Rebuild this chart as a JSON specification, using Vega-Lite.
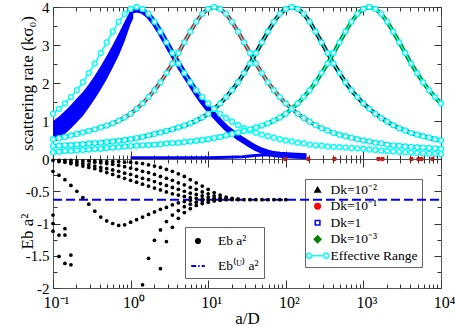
{
"$schema": "https://vega.github.io/schema/vega-lite/v6.json",
"padding": {"left": 17, "top": -3, "right": 0, "bottom": 0},
"background": "white",
"spacing": 0,
"bounds": "flush",
"resolve": {"scale": {"color": "independent"}, "legend": {"color": "independent"}},
"datasets": {
"curves": [
{"s":"Dk=1","a":0.1,"r":1.19},{"s":"Dk=1","a":0.1194,"r":1.32},{"s":"Dk=1","a":0.1425,"r":1.46},{"s":"Dk=1","a":0.1701,"r":1.63},{"s":"Dk=1","a":0.2031,"r":1.81},{"s":"Dk=1","a":0.2425,"r":2.02},{"s":"Dk=1","a":0.2894,"r":2.26},{"s":"Dk=1","a":0.3455,"r":2.51},{"s":"Dk=1","a":0.4125,"r":2.79},{"s":"Dk=1","a":0.4924,"r":3.07},{"s":"Dk=1","a":0.5878,"r":3.35},{"s":"Dk=1","a":0.7017,"r":3.61},{"s":"Dk=1","a":0.8377,"r":3.82},{"s":"Dk=1","a":1,"r":3.95},{"s":"Dk=1","a":1.194,"r":4.0},{"s":"Dk=1","a":1.425,"r":3.95},{"s":"Dk=1","a":1.701,"r":3.82},{"s":"Dk=1","a":2.031,"r":3.61},{"s":"Dk=1","a":2.425,"r":3.35},{"s":"Dk=1","a":2.894,"r":3.07},{"s":"Dk=1","a":3.455,"r":2.79},{"s":"Dk=1","a":4.125,"r":2.51},{"s":"Dk=1","a":4.924,"r":2.26},{"s":"Dk=1","a":5.878,"r":2.02},{"s":"Dk=1","a":7.017,"r":1.81},{"s":"Dk=1","a":8.377,"r":1.63},{"s":"Dk=1","a":10,"r":1.46},{"s":"Dk=1","a":11.94,"r":1.32},{"s":"Dk=1","a":14.25,"r":1.19},{"s":"Dk=1","a":17.01,"r":1.08},{"s":"Dk=1","a":20.31,"r":0.98},{"s":"Dk=1","a":24.25,"r":0.89},{"s":"Dk=1","a":28.94,"r":0.81},{"s":"Dk=1","a":34.55,"r":0.75},{"s":"Dk=1","a":41.25,"r":0.69},{"s":"Dk=1","a":49.24,"r":0.64},{"s":"Dk=1","a":58.78,"r":0.6},{"s":"Dk=1","a":70.17,"r":0.56},{"s":"Dk=1","a":83.77,"r":0.52},{"s":"Dk=1","a":100,"r":0.49},{"s":"Dk=1","a":119.4,"r":0.46},{"s":"Dk=1","a":142.5,"r":0.43},{"s":"Dk=1","a":170.1,"r":0.41},{"s":"Dk=1","a":203.1,"r":0.38},{"s":"Dk=1","a":242.5,"r":0.36},{"s":"Dk=1","a":289.4,"r":0.35},{"s":"Dk=1","a":345.5,"r":0.33},{"s":"Dk=1","a":412.5,"r":0.32},{"s":"Dk=1","a":492.4,"r":0.31},{"s":"Dk=1","a":587.8,"r":0.3},{"s":"Dk=1","a":701.7,"r":0.29},{"s":"Dk=1","a":837.7,"r":0.28},{"s":"Dk=1","a":1000,"r":0.27},{"s":"Dk=1","a":1194,"r":0.25},{"s":"Dk=1","a":1425,"r":0.24},{"s":"Dk=1","a":1701,"r":0.22},{"s":"Dk=1","a":2031,"r":0.21},{"s":"Dk=1","a":2425,"r":0.2},{"s":"Dk=1","a":2894,"r":0.19},{"s":"Dk=1","a":3455,"r":0.18},{"s":"Dk=1","a":4125,"r":0.17},{"s":"Dk=1","a":4924,"r":0.16},{"s":"Dk=1","a":5878,"r":0.15},{"s":"Dk=1","a":7017,"r":0.14},{"s":"Dk=1","a":8377,"r":0.135},{"s":"Dk=1","a":10000,"r":0.13},
{"s":"Dk=10⁻¹","a":0.1,"r":0.52},{"s":"Dk=10⁻¹","a":0.1194,"r":0.55},{"s":"Dk=10⁻¹","a":0.1425,"r":0.58},{"s":"Dk=10⁻¹","a":0.1701,"r":0.62},{"s":"Dk=10⁻¹","a":0.2031,"r":0.66},{"s":"Dk=10⁻¹","a":0.2425,"r":0.70},{"s":"Dk=10⁻¹","a":0.2894,"r":0.74},{"s":"Dk=10⁻¹","a":0.3455,"r":0.78},{"s":"Dk=10⁻¹","a":0.4125,"r":0.83},{"s":"Dk=10⁻¹","a":0.4924,"r":0.88},{"s":"Dk=10⁻¹","a":0.5878,"r":0.94},{"s":"Dk=10⁻¹","a":0.7017,"r":1.01},{"s":"Dk=10⁻¹","a":0.8377,"r":1.09},{"s":"Dk=10⁻¹","a":1,"r":1.19},{"s":"Dk=10⁻¹","a":1.194,"r":1.32},{"s":"Dk=10⁻¹","a":1.425,"r":1.46},{"s":"Dk=10⁻¹","a":1.701,"r":1.63},{"s":"Dk=10⁻¹","a":2.031,"r":1.81},{"s":"Dk=10⁻¹","a":2.425,"r":2.02},{"s":"Dk=10⁻¹","a":2.894,"r":2.26},{"s":"Dk=10⁻¹","a":3.455,"r":2.51},{"s":"Dk=10⁻¹","a":4.125,"r":2.79},{"s":"Dk=10⁻¹","a":4.924,"r":3.07},{"s":"Dk=10⁻¹","a":5.878,"r":3.35},{"s":"Dk=10⁻¹","a":7.017,"r":3.61},{"s":"Dk=10⁻¹","a":8.377,"r":3.82},{"s":"Dk=10⁻¹","a":10,"r":3.95},{"s":"Dk=10⁻¹","a":11.94,"r":4.0},{"s":"Dk=10⁻¹","a":14.25,"r":3.95},{"s":"Dk=10⁻¹","a":17.01,"r":3.82},{"s":"Dk=10⁻¹","a":20.31,"r":3.61},{"s":"Dk=10⁻¹","a":24.25,"r":3.35},{"s":"Dk=10⁻¹","a":28.94,"r":3.07},{"s":"Dk=10⁻¹","a":34.55,"r":2.79},{"s":"Dk=10⁻¹","a":41.25,"r":2.51},{"s":"Dk=10⁻¹","a":49.24,"r":2.26},{"s":"Dk=10⁻¹","a":58.78,"r":2.02},{"s":"Dk=10⁻¹","a":70.17,"r":1.81},{"s":"Dk=10⁻¹","a":83.77,"r":1.63},{"s":"Dk=10⁻¹","a":100,"r":1.46},{"s":"Dk=10⁻¹","a":119.4,"r":1.32},{"s":"Dk=10⁻¹","a":142.5,"r":1.19},{"s":"Dk=10⁻¹","a":170.1,"r":1.08},{"s":"Dk=10⁻¹","a":203.1,"r":0.98},{"s":"Dk=10⁻¹","a":242.5,"r":0.89},{"s":"Dk=10⁻¹","a":289.4,"r":0.81},{"s":"Dk=10⁻¹","a":345.5,"r":0.75},{"s":"Dk=10⁻¹","a":412.5,"r":0.69},{"s":"Dk=10⁻¹","a":492.4,"r":0.64},{"s":"Dk=10⁻¹","a":587.8,"r":0.6},{"s":"Dk=10⁻¹","a":701.7,"r":0.56},{"s":"Dk=10⁻¹","a":837.7,"r":0.52},{"s":"Dk=10⁻¹","a":1000,"r":0.49},{"s":"Dk=10⁻¹","a":1194,"r":0.46},{"s":"Dk=10⁻¹","a":1425,"r":0.43},{"s":"Dk=10⁻¹","a":1701,"r":0.41},{"s":"Dk=10⁻¹","a":2031,"r":0.38},{"s":"Dk=10⁻¹","a":2425,"r":0.36},{"s":"Dk=10⁻¹","a":2894,"r":0.35},{"s":"Dk=10⁻¹","a":3455,"r":0.33},{"s":"Dk=10⁻¹","a":4125,"r":0.32},{"s":"Dk=10⁻¹","a":4924,"r":0.31},{"s":"Dk=10⁻¹","a":5878,"r":0.3},{"s":"Dk=10⁻¹","a":7017,"r":0.29},{"s":"Dk=10⁻¹","a":8377,"r":0.28},{"s":"Dk=10⁻¹","a":10000,"r":0.27},
{"s":"Dk=10⁻²","a":0.1,"r":0.34},{"s":"Dk=10⁻²","a":0.1194,"r":0.35},{"s":"Dk=10⁻²","a":0.1425,"r":0.36},{"s":"Dk=10⁻²","a":0.1701,"r":0.37},{"s":"Dk=10⁻²","a":0.2031,"r":0.38},{"s":"Dk=10⁻²","a":0.2425,"r":0.39},{"s":"Dk=10⁻²","a":0.2894,"r":0.41},{"s":"Dk=10⁻²","a":0.3455,"r":0.42},{"s":"Dk=10⁻²","a":0.4125,"r":0.43},{"s":"Dk=10⁻²","a":0.4924,"r":0.45},{"s":"Dk=10⁻²","a":0.5878,"r":0.46},{"s":"Dk=10⁻²","a":0.7017,"r":0.48},{"s":"Dk=10⁻²","a":0.8377,"r":0.50},{"s":"Dk=10⁻²","a":1,"r":0.52},{"s":"Dk=10⁻²","a":1.194,"r":0.55},{"s":"Dk=10⁻²","a":1.425,"r":0.58},{"s":"Dk=10⁻²","a":1.701,"r":0.62},{"s":"Dk=10⁻²","a":2.031,"r":0.66},{"s":"Dk=10⁻²","a":2.425,"r":0.70},{"s":"Dk=10⁻²","a":2.894,"r":0.74},{"s":"Dk=10⁻²","a":3.455,"r":0.78},{"s":"Dk=10⁻²","a":4.125,"r":0.83},{"s":"Dk=10⁻²","a":4.924,"r":0.88},{"s":"Dk=10⁻²","a":5.878,"r":0.94},{"s":"Dk=10⁻²","a":7.017,"r":1.01},{"s":"Dk=10⁻²","a":8.377,"r":1.09},{"s":"Dk=10⁻²","a":10,"r":1.19},{"s":"Dk=10⁻²","a":11.94,"r":1.32},{"s":"Dk=10⁻²","a":14.25,"r":1.46},{"s":"Dk=10⁻²","a":17.01,"r":1.63},{"s":"Dk=10⁻²","a":20.31,"r":1.81},{"s":"Dk=10⁻²","a":24.25,"r":2.02},{"s":"Dk=10⁻²","a":28.94,"r":2.26},{"s":"Dk=10⁻²","a":34.55,"r":2.51},{"s":"Dk=10⁻²","a":41.25,"r":2.79},{"s":"Dk=10⁻²","a":49.24,"r":3.07},{"s":"Dk=10⁻²","a":58.78,"r":3.35},{"s":"Dk=10⁻²","a":70.17,"r":3.61},{"s":"Dk=10⁻²","a":83.77,"r":3.82},{"s":"Dk=10⁻²","a":100,"r":3.95},{"s":"Dk=10⁻²","a":119.4,"r":4.0},{"s":"Dk=10⁻²","a":142.5,"r":3.95},{"s":"Dk=10⁻²","a":170.1,"r":3.82},{"s":"Dk=10⁻²","a":203.1,"r":3.61},{"s":"Dk=10⁻²","a":242.5,"r":3.35},{"s":"Dk=10⁻²","a":289.4,"r":3.07},{"s":"Dk=10⁻²","a":345.5,"r":2.79},{"s":"Dk=10⁻²","a":412.5,"r":2.51},{"s":"Dk=10⁻²","a":492.4,"r":2.26},{"s":"Dk=10⁻²","a":587.8,"r":2.02},{"s":"Dk=10⁻²","a":701.7,"r":1.81},{"s":"Dk=10⁻²","a":837.7,"r":1.63},{"s":"Dk=10⁻²","a":1000,"r":1.46},{"s":"Dk=10⁻²","a":1194,"r":1.32},{"s":"Dk=10⁻²","a":1425,"r":1.19},{"s":"Dk=10⁻²","a":1701,"r":1.08},{"s":"Dk=10⁻²","a":2031,"r":0.98},{"s":"Dk=10⁻²","a":2425,"r":0.89},{"s":"Dk=10⁻²","a":2894,"r":0.81},{"s":"Dk=10⁻²","a":3455,"r":0.75},{"s":"Dk=10⁻²","a":4125,"r":0.69},{"s":"Dk=10⁻²","a":4924,"r":0.64},{"s":"Dk=10⁻²","a":5878,"r":0.6},{"s":"Dk=10⁻²","a":7017,"r":0.56},{"s":"Dk=10⁻²","a":8377,"r":0.52},{"s":"Dk=10⁻²","a":10000,"r":0.49},
{"s":"Dk=10⁻³","a":0.1,"r":0.18},{"s":"Dk=10⁻³","a":0.1194,"r":0.19},{"s":"Dk=10⁻³","a":0.1425,"r":0.21},{"s":"Dk=10⁻³","a":0.1701,"r":0.22},{"s":"Dk=10⁻³","a":0.2031,"r":0.23},{"s":"Dk=10⁻³","a":0.2425,"r":0.24},{"s":"Dk=10⁻³","a":0.2894,"r":0.25},{"s":"Dk=10⁻³","a":0.3455,"r":0.26},{"s":"Dk=10⁻³","a":0.4125,"r":0.27},{"s":"Dk=10⁻³","a":0.4924,"r":0.29},{"s":"Dk=10⁻³","a":0.5878,"r":0.30},{"s":"Dk=10⁻³","a":0.7017,"r":0.31},{"s":"Dk=10⁻³","a":0.8377,"r":0.33},{"s":"Dk=10⁻³","a":1,"r":0.34},{"s":"Dk=10⁻³","a":1.194,"r":0.35},{"s":"Dk=10⁻³","a":1.425,"r":0.36},{"s":"Dk=10⁻³","a":1.701,"r":0.37},{"s":"Dk=10⁻³","a":2.031,"r":0.38},{"s":"Dk=10⁻³","a":2.425,"r":0.39},{"s":"Dk=10⁻³","a":2.894,"r":0.41},{"s":"Dk=10⁻³","a":3.455,"r":0.42},{"s":"Dk=10⁻³","a":4.125,"r":0.43},{"s":"Dk=10⁻³","a":4.924,"r":0.45},{"s":"Dk=10⁻³","a":5.878,"r":0.46},{"s":"Dk=10⁻³","a":7.017,"r":0.48},{"s":"Dk=10⁻³","a":8.377,"r":0.50},{"s":"Dk=10⁻³","a":10,"r":0.52},{"s":"Dk=10⁻³","a":11.94,"r":0.55},{"s":"Dk=10⁻³","a":14.25,"r":0.58},{"s":"Dk=10⁻³","a":17.01,"r":0.62},{"s":"Dk=10⁻³","a":20.31,"r":0.66},{"s":"Dk=10⁻³","a":24.25,"r":0.70},{"s":"Dk=10⁻³","a":28.94,"r":0.74},{"s":"Dk=10⁻³","a":34.55,"r":0.78},{"s":"Dk=10⁻³","a":41.25,"r":0.83},{"s":"Dk=10⁻³","a":49.24,"r":0.88},{"s":"Dk=10⁻³","a":58.78,"r":0.94},{"s":"Dk=10⁻³","a":70.17,"r":1.01},{"s":"Dk=10⁻³","a":83.77,"r":1.09},{"s":"Dk=10⁻³","a":100,"r":1.19},{"s":"Dk=10⁻³","a":119.4,"r":1.32},{"s":"Dk=10⁻³","a":142.5,"r":1.46},{"s":"Dk=10⁻³","a":170.1,"r":1.63},{"s":"Dk=10⁻³","a":203.1,"r":1.81},{"s":"Dk=10⁻³","a":242.5,"r":2.02},{"s":"Dk=10⁻³","a":289.4,"r":2.26},{"s":"Dk=10⁻³","a":345.5,"r":2.51},{"s":"Dk=10⁻³","a":412.5,"r":2.79},{"s":"Dk=10⁻³","a":492.4,"r":3.07},{"s":"Dk=10⁻³","a":587.8,"r":3.35},{"s":"Dk=10⁻³","a":701.7,"r":3.61},{"s":"Dk=10⁻³","a":837.7,"r":3.82},{"s":"Dk=10⁻³","a":1000,"r":3.95},{"s":"Dk=10⁻³","a":1194,"r":4.0},{"s":"Dk=10⁻³","a":1425,"r":3.95},{"s":"Dk=10⁻³","a":1701,"r":3.82},{"s":"Dk=10⁻³","a":2031,"r":3.61},{"s":"Dk=10⁻³","a":2425,"r":3.35},{"s":"Dk=10⁻³","a":2894,"r":3.07},{"s":"Dk=10⁻³","a":3455,"r":2.79},{"s":"Dk=10⁻³","a":4125,"r":2.51},{"s":"Dk=10⁻³","a":4924,"r":2.26},{"s":"Dk=10⁻³","a":5878,"r":2.02},{"s":"Dk=10⁻³","a":7017,"r":1.81},{"s":"Dk=10⁻³","a":8377,"r":1.63},{"s":"Dk=10⁻³","a":10000,"r":1.46}
],
"band": [
{"a":0.1,"lo":0.55,"hi":1.0},{"a":0.1194,"lo":0.6,"hi":1.12},{"a":0.1425,"lo":0.66,"hi":1.26},{"a":0.1701,"lo":0.8,"hi":1.42},{"a":0.2031,"lo":0.97,"hi":1.6},{"a":0.2425,"lo":1.13,"hi":1.76},{"a":0.2894,"lo":1.35,"hi":1.97},{"a":0.3455,"lo":1.58,"hi":2.2},{"a":0.4125,"lo":1.83,"hi":2.45},{"a":0.4924,"lo":2.1,"hi":2.72},{"a":0.5878,"lo":2.4,"hi":3.0},{"a":0.7017,"lo":2.72,"hi":3.3},{"a":0.8377,"lo":3.1,"hi":3.62},{"a":1,"lo":3.55,"hi":3.92},{"a":1.08,"lo":3.7,"hi":3.95}
],
"blue": [
{"b":"up","a":1.0,"r":3.9},{"b":"up","a":1.194,"r":3.93},{"b":"up","a":1.425,"r":3.9},{"b":"up","a":1.701,"r":3.78},{"b":"up","a":2.031,"r":3.58},{"b":"up","a":2.425,"r":3.33},{"b":"up","a":2.894,"r":3.05},{"b":"up","a":3.455,"r":2.77},{"b":"up","a":4.125,"r":2.5},{"b":"up","a":4.924,"r":2.24},{"b":"up","a":5.878,"r":2.0},{"b":"up","a":7.017,"r":1.75},{"b":"up","a":8.377,"r":1.52},{"b":"up","a":10,"r":1.32},{"b":"up","a":11.94,"r":1.15},{"b":"up","a":14.25,"r":0.98},{"b":"up","a":17.01,"r":0.82},{"b":"up","a":20.31,"r":0.7},{"b":"up","a":24.25,"r":0.58},{"b":"up","a":28.94,"r":0.48},{"b":"up","a":34.55,"r":0.38},{"b":"up","a":41.25,"r":0.29},{"b":"up","a":49.24,"r":0.22},{"b":"up","a":58.78,"r":0.17},{"b":"up","a":70.17,"r":0.13},{"b":"up","a":83.77,"r":0.11},{"b":"up","a":119.4,"r":0.09},{"b":"up","a":184,"r":0.07},
{"b":"low","a":1.0,"r":0.03},{"b":"low","a":3,"r":0.03},{"b":"low","a":10,"r":0.035},{"b":"low","a":18,"r":0.045},{"b":"low","a":28,"r":0.06},{"b":"low","a":40,"r":0.09},{"b":"low","a":55,"r":0.11},{"b":"low","a":75,"r":0.1},{"b":"low","a":110,"r":0.08},{"b":"low","a":184,"r":0.07}
],
"zeros": [
{"a":98.6,"r":0},{"a":195,"r":0},{"a":423,"r":0},{"a":1563,"r":0},{"a":1758,"r":0},{"a":4159,"r":0},{"a":5128,"r":0},{"a":5601,"r":0},{"a":7762,"r":0}
],
"ebu": [{"a0":0.1,"a1":10000,"v":-0.63}],
"eb": [
{"a":0.1,"v":-0.02},{"a":0.1194,"v":-0.02},{"a":0.1425,"v":-0.02},{"a":0.1701,"v":-0.02},{"a":0.2031,"v":-0.03},{"a":0.2425,"v":-0.03},{"a":0.2894,"v":-0.03},{"a":0.3455,"v":-0.03},{"a":0.4125,"v":-0.03},{"a":0.4924,"v":-0.04},{"a":0.5878,"v":-0.04},{"a":0.7017,"v":-0.04},{"a":0.8377,"v":-0.05},{"a":1,"v":-0.05},{"a":1.194,"v":-0.06},{"a":1.425,"v":-0.07},{"a":1.701,"v":-0.09},{"a":2.031,"v":-0.11},{"a":2.425,"v":-0.13},{"a":2.894,"v":-0.16},{"a":3.455,"v":-0.19},{"a":4.125,"v":-0.23},{"a":4.924,"v":-0.27},{"a":5.878,"v":-0.32},{"a":7.017,"v":-0.37},{"a":8.377,"v":-0.42},{"a":10,"v":-0.47},{"a":11.94,"v":-0.52},{"a":14.25,"v":-0.56},{"a":17.01,"v":-0.59},{"a":20.31,"v":-0.61},{"a":24.25,"v":-0.62},
{"a":0.3455,"v":-0.05},{"a":0.4125,"v":-0.06},{"a":0.4924,"v":-0.07},{"a":0.5878,"v":-0.08},{"a":0.7017,"v":-0.1},{"a":0.8377,"v":-0.12},{"a":1,"v":-0.14},{"a":1.194,"v":-0.16},{"a":1.425,"v":-0.19},{"a":1.701,"v":-0.21},{"a":2.031,"v":-0.24},{"a":2.425,"v":-0.27},{"a":2.894,"v":-0.3},{"a":3.455,"v":-0.33},{"a":4.125,"v":-0.37},{"a":4.924,"v":-0.4},{"a":5.878,"v":-0.44},{"a":7.017,"v":-0.47},{"a":8.377,"v":-0.51},{"a":10,"v":-0.54},{"a":11.94,"v":-0.57},{"a":14.25,"v":-0.6},{"a":17.01,"v":-0.61},{"a":20.31,"v":-0.62},
{"a":0.1701,"v":-0.05},{"a":0.2031,"v":-0.06},{"a":0.2425,"v":-0.07},{"a":0.2894,"v":-0.09},{"a":0.3455,"v":-0.11},{"a":0.4125,"v":-0.13},{"a":0.4924,"v":-0.15},{"a":0.5878,"v":-0.17},{"a":0.7017,"v":-0.19},{"a":0.8377,"v":-0.22},{"a":1,"v":-0.24},{"a":1.194,"v":-0.27},{"a":1.425,"v":-0.3},{"a":1.701,"v":-0.32},{"a":2.031,"v":-0.35},{"a":2.425,"v":-0.38},{"a":2.894,"v":-0.41},{"a":3.455,"v":-0.44},{"a":4.125,"v":-0.47},{"a":4.924,"v":-0.5},{"a":5.878,"v":-0.53},{"a":7.017,"v":-0.55},{"a":8.377,"v":-0.57},{"a":10,"v":-0.59},{"a":11.94,"v":-0.61},{"a":14.25,"v":-0.62},
{"a":0.1194,"v":-0.04},{"a":0.1425,"v":-0.05},{"a":0.1701,"v":-0.07},{"a":0.2031,"v":-0.09},{"a":0.2425,"v":-0.11},{"a":0.2894,"v":-0.13},{"a":0.3455,"v":-0.15},{"a":0.4125,"v":-0.18},{"a":0.4924,"v":-0.21},{"a":0.5878,"v":-0.24},{"a":0.7017,"v":-0.27},{"a":0.8377,"v":-0.3},{"a":1,"v":-0.33},{"a":1.194,"v":-0.36},{"a":1.425,"v":-0.39},{"a":1.701,"v":-0.42},{"a":2.031,"v":-0.45},{"a":2.425,"v":-0.48},{"a":2.894,"v":-0.51},{"a":3.455,"v":-0.54},{"a":4.125,"v":-0.56},{"a":4.924,"v":-0.58},{"a":5.878,"v":-0.6},{"a":7.017,"v":-0.61},{"a":8.377,"v":-0.62},
{"a":0.1,"v":-0.19},{"a":0.1194,"v":-0.25},{"a":0.1425,"v":-0.32},{"a":0.1701,"v":-0.41},{"a":0.2031,"v":-0.5},{"a":0.2425,"v":-0.6},{"a":0.2894,"v":-0.7},{"a":0.3455,"v":-0.81},{"a":0.4125,"v":-0.9},{"a":0.4924,"v":-0.96},{"a":0.5878,"v":-1.0},{"a":0.7017,"v":-1.03},{"a":0.8377,"v":-1.02},{"a":1,"v":-0.98},{"a":1.194,"v":-0.94},{"a":1.425,"v":-0.9},{"a":1.701,"v":-0.86},{"a":2.031,"v":-0.82},{"a":2.425,"v":-0.78},{"a":2.894,"v":-0.75},{"a":3.455,"v":-0.71},{"a":4.125,"v":-0.68},{"a":4.924,"v":-0.66},{"a":5.878,"v":-0.64},
{"a":1.425,"v":-1.95},{"a":1.701,"v":-1.54},{"a":2.031,"v":-1.26},{"a":2.425,"v":-1.1},{"a":2.894,"v":-0.97},{"a":3.455,"v":-0.87},{"a":4.125,"v":-0.8},{"a":4.924,"v":-0.74},{"a":5.878,"v":-0.7},{"a":7.017,"v":-0.67},{"a":8.377,"v":-0.65},
{"a":2.425,"v":-1.7},{"a":2.894,"v":-1.28},{"a":3.455,"v":-1.06},{"a":4.125,"v":-0.92},{"a":4.924,"v":-0.83},{"a":5.878,"v":-0.77},{"a":7.017,"v":-0.72},{"a":8.377,"v":-0.69},{"a":10,"v":-0.67},{"a":11.94,"v":-0.65},{"a":14.25,"v":-0.64},
{"a":0.1,"v":-0.87},{"a":0.1,"v":-1.0},{"a":0.1,"v":-1.12},{"a":0.1194,"v":-1.18},{"a":0.1194,"v":-1.51},{"a":0.1425,"v":-1.08},{"a":0.1425,"v":-1.18},{"a":0.1425,"v":-1.62},{"a":0.1701,"v":-1.49},{"a":0.1701,"v":-1.64},
{"a":10,"v":-0.63},{"a":11.94,"v":-0.63},{"a":14.25,"v":-0.63},{"a":17.01,"v":-0.63},{"a":20.31,"v":-0.63},{"a":24.25,"v":-0.63},{"a":28.94,"v":-0.63},{"a":34.55,"v":-0.63},{"a":41.25,"v":-0.63},{"a":49.24,"v":-0.63},{"a":58.78,"v":-0.63},{"a":70.17,"v":-0.63},{"a":83.77,"v":-0.63},{"a":100,"v":-0.63}
]
},
"vconcat": [
{
"width": 388, "height": 152,
"resolve": {"axis": {"x": "independent", "y": "independent"}},
"layer": [
{"data": {"name": "band"},
 "mark": {"type": "area", "color": "blue", "opacity": 1},
 "encoding": {
  "x": {"field": "a", "type": "quantitative", "scale": {"type": "log", "domain": [0.1, 10000], "nice": false},
        "axis": {"orient": "bottom", "values": [0.1,0.2,0.3,0.4,0.5,0.6,0.7,0.8,0.9,1,2,3,4,5,6,7,8,9,10,20,30,40,50,60,70,80,90,100,200,300,400,500,600,700,800,900,1000,2000,3000,4000,5000,6000,7000,8000,9000,10000], "labels": false, "title": null,
                 "tickSize": {"condition": {"test": "indexof([0.1,1,10,100,1000,10000], datum.value) >= 0", "value": -8}, "value": -4}}},
  "y": {"field": "lo", "type": "quantitative", "scale": {"domain": [0, 4], "nice": false},
        "axis": {"orient": "left", "values": [0,0.5,1,1.5,2,2.5,3,3.5,4], "labelExpr": "datum.value % 1 === 0 ? '' + datum.value : ''", "labelPadding": 11, "labelFontSize": 15,
                 "title": "scattering rate (kσ₀)", "titleX": -21, "titleBaseline": "alphabetic", "titleAlign": "center",
                 "tickSize": {"condition": {"test": "datum.value % 1 === 0", "value": -7}, "value": -4}}},
  "y2": {"field": "hi"}
 }},
{"data": {"name": "blue"},
 "transform": [{"filter": "datum.b === 'up'"}],
 "mark": {"type": "line", "color": "blue", "strokeWidth": 6},
 "encoding": {
  "x": {"field": "a", "type": "quantitative", "scale": {"type": "log", "domain": [0.1, 10000], "nice": false},
        "axis": {"orient": "top", "values": [0.1,0.2,0.3,0.4,0.5,0.6,0.7,0.8,0.9,1,2,3,4,5,6,7,8,9,10,20,30,40,50,60,70,80,90,100,200,300,400,500,600,700,800,900,1000,2000,3000,4000,5000,6000,7000,8000,9000,10000], "labels": false, "title": null,
                 "tickSize": {"condition": {"test": "indexof([0.1,1,10,100,1000,10000], datum.value) >= 0", "value": -8}, "value": -4}}},
  "y": {"field": "r", "type": "quantitative",
        "axis": {"orient": "right", "values": [0,0.5,1,1.5,2,2.5,3,3.5,4], "labels": false, "title": null,
                 "tickSize": {"condition": {"test": "datum.value % 1 === 0", "value": -7}, "value": -4}}}
 }},
{"data": {"name": "blue"},
 "transform": [{"filter": "datum.b === 'low'"}],
 "mark": {"type": "line", "color": "blue", "strokeWidth": 3},
 "encoding": {
  "x": {"field": "a", "type": "quantitative", "axis": null},
  "y": {"field": "r", "type": "quantitative", "axis": null}
 }},
{"data": {"name": "curves"},
 "transform": [{"filter": "datum.s !== 'Dk=1'"}],
 "mark": {"type": "line"},
 "encoding": {
  "x": {"field": "a", "type": "quantitative", "axis": null},
  "y": {"field": "r", "type": "quantitative", "axis": null},
  "color": {"field": "s", "type": "nominal",
     "scale": {"domain": ["Dk=10⁻²","Dk=10⁻¹","Dk=1","Dk=10⁻³","Effective Range"], "range": ["black","red","blue","green","cyan"]},
     "legend": {"orient": "none", "legendX": 252, "legendY": 172, "title": null,
        "fillColor": "white", "strokeColor": "#666", "padding": 4,
        "symbolSize": 30, "rowPadding": 1.5, "labelOffset": 8, "labelFontSize": 13.5, "labelFont": "Liberation Serif", "labelColor": "black", "labelLimit": 200,
        "encode": {"symbols": {"update": {
          "x": {"value": 8.6},
          "shape": {"signal": "datum.value === 'Dk=10⁻²' ? 'triangle-up' : datum.value === 'Dk=10⁻¹' ? 'circle' : datum.value === 'Dk=1' ? 'square' : datum.value === 'Dk=10⁻³' ? 'diamond' : 'M-0.6,0L0.6,0M-0.6,0A0.25,0.25,0,1,1,-1.1,0A0.25,0.25,0,1,1,-0.6,0M1.1,0A0.25,0.25,0,1,1,0.6,0A0.25,0.25,0,1,1,1.1,0'"},
          "size": {"signal": "datum.value === 'Effective Range' ? 400 : datum.value === 'Dk=10⁻³' ? 45 : datum.value === 'Dk=1' ? 22 : 30"},
          "fill": {"signal": "datum.value === 'Dk=10⁻²' ? 'black' : datum.value === 'Dk=10⁻¹' ? 'red' : datum.value === 'Dk=10⁻³' ? 'green' : 'transparent'"},
          "stroke": {"signal": "datum.value === 'Dk=1' ? 'blue' : datum.value === 'Effective Range' ? 'cyan' : 'transparent'"},
          "strokeWidth": {"value": 1.5},
          "opacity": {"value": 1}
        }}}}},
  "strokeWidth": {"field": "s", "type": "nominal", "scale": {"domain": ["Dk=10⁻¹","Dk=10⁻²","Dk=10⁻³"], "range": [4,4,6]}, "legend": null}
 }},
{"data": {"name": "curves"},
 "mark": {"type": "line", "strokeWidth": 1.5},
 "encoding": {
  "x": {"field": "a", "type": "quantitative", "axis": null},
  "y": {"field": "r", "type": "quantitative", "axis": null},
  "detail": {"field": "s", "type": "nominal"},
  "color": {"datum": "Effective Range", "type": "nominal"}
 }},
{"data": {"name": "curves"},
 "mark": {"type": "point", "filled": false, "fill": "white", "size": 24, "strokeWidth": 1.4, "opacity": 1},
 "encoding": {
  "x": {"field": "a", "type": "quantitative", "axis": null},
  "y": {"field": "r", "type": "quantitative", "axis": null},
  "color": {"datum": "Effective Range", "type": "nominal"}
 }},
{"data": {"name": "zeros"},
 "mark": {"type": "point", "filled": true, "color": "red", "size": 22, "opacity": 1},
 "encoding": {
  "x": {"field": "a", "type": "quantitative", "axis": null},
  "y": {"field": "r", "type": "quantitative", "axis": null}
 }}
]
},
{
"width": 388, "height": 129,
"resolve": {"axis": {"x": "independent", "y": "independent"}},
"layer": [
{"data": {"name": "ebu"},
 "mark": {"type": "rule", "strokeWidth": 2, "strokeDash": [9, 4]},
 "encoding": {
  "x": {"field": "a0", "type": "quantitative", "scale": {"type": "log", "domain": [0.1, 10000], "nice": false},
        "axis": {"orient": "bottom", "values": [0.1,0.2,0.3,0.4,0.5,0.6,0.7,0.8,0.9,1,2,3,4,5,6,7,8,9,10,20,30,40,50,60,70,80,90,100,200,300,400,500,600,700,800,900,1000,2000,3000,4000,5000,6000,7000,8000,9000,10000],
                 "labelExpr": "datum.value === 0.1 ? '10⁻¹' : datum.value === 1 ? '10⁰' : datum.value === 10 ? '10¹' : datum.value === 100 ? '10²' : datum.value === 1000 ? '10³' : datum.value === 10000 ? '10⁴' : ''",
                 "labelFontSize": 16, "labelPadding": 14, "labelOffset": 3,
                 "title": "a/D", "titleY": 35, "titleBaseline": "alphabetic",
                 "tickSize": {"condition": {"test": "indexof([0.1,1,10,100,1000,10000], datum.value) >= 0", "value": -8}, "value": -4}}},
  "x2": {"field": "a1"},
  "y": {"field": "v", "type": "quantitative", "scale": {"domain": [-2, 0], "nice": false},
        "axis": {"orient": "left", "values": [-2,-1.75,-1.5,-1.25,-1,-0.75,-0.5,-0.25,0], "labelExpr": "datum.value !== 0 && datum.value % 0.5 === 0 ? '' + datum.value : ''", "labelPadding": 11, "labelFontSize": 15,
                 "title": "Eb a²", "titleX": -21, "titleY": 72, "titleBaseline": "alphabetic", "titleAlign": "center",
                 "tickSize": {"condition": {"test": "datum.value % 0.5 === 0", "value": -7}, "value": -4}}},
  "color": {"datum": "Eb⁽ᵁ⁾ a²", "type": "nominal",
     "scale": {"domain": ["Eb a²", "Eb⁽ᵁ⁾ a²"], "range": ["black", "blue"]},
     "legend": {"orient": "none", "legendX": 132, "legendY": 68, "title": null,
        "fillColor": "white", "strokeColor": "#666", "padding": 5,
        "symbolSize": 16, "rowPadding": 9, "labelOffset": 10, "labelFontSize": 13.5, "labelFont": "Liberation Serif", "labelColor": "black",
        "encode": {"symbols": {"update": {
          "x": {"value": 8},
          "shape": {"signal": "datum.value === 'Eb a²' ? 'circle' : 'M-0.85,0L0.85,0'"},
          "size": {"signal": "datum.value === 'Eb a²' ? 18 : 256"},
          "fill": {"signal": "datum.value === 'Eb a²' ? 'black' : 'transparent'"},
          "stroke": {"signal": "datum.value === 'Eb a²' ? 'transparent' : 'blue'"},
          "strokeWidth": {"value": 2},
          "strokeDash": {"signal": "datum.value === 'Eb a²' ? [1,0] : [5,2,1.5,2]"},
          "opacity": {"value": 1}
        }}}}}
 }},
{"data": {"name": "eb"},
 "mark": {"type": "point", "filled": true, "size": 14, "opacity": 1},
 "encoding": {
  "x": {"field": "a", "type": "quantitative",
        "axis": {"orient": "top", "values": [0.1,0.2,0.3,0.4,0.5,0.6,0.7,0.8,0.9,1,2,3,4,5,6,7,8,9,10,20,30,40,50,60,70,80,90,100,200,300,400,500,600,700,800,900,1000,2000,3000,4000,5000,6000,7000,8000,9000,10000], "labels": false, "title": null,
                 "tickSize": {"condition": {"test": "indexof([0.1,1,10,100,1000,10000], datum.value) >= 0", "value": -8}, "value": -4}}},
  "y": {"field": "v", "type": "quantitative",
        "axis": {"orient": "right", "values": [-2,-1.75,-1.5,-1.25,-1,-0.75,-0.5,-0.25,0], "labels": false, "title": null,
                 "tickSize": {"condition": {"test": "datum.value % 0.5 === 0", "value": -7}, "value": -4}}},
  "color": {"datum": "Eb a²", "type": "nominal"}
 }}
]
}
],
"config": {
 "view": {"stroke": "#555", "strokeWidth": 1},
 "axis": {"grid": false, "domain": false, "tickColor": "#333", "tickWidth": 1, "labelFont": "Liberation Serif", "titleFont": "Liberation Serif", "labelColor": "black", "titleColor": "black", "titleFontWeight": "normal", "titleFontSize": 17, "labelOverlap": false, "labelFlush": false, "labelBound": false}
}
}
